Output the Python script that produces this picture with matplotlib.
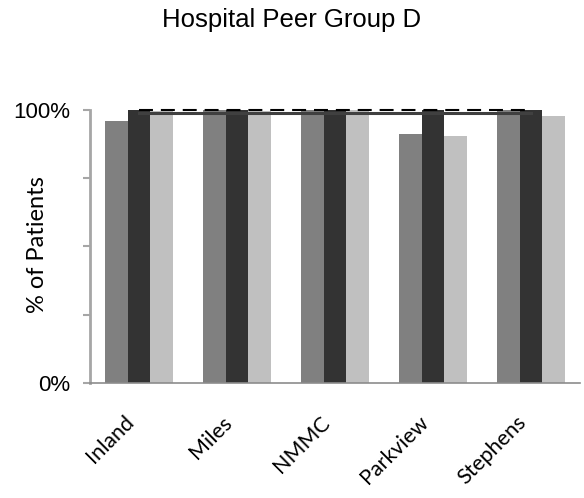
import numpy as np
import matplotlib.pyplot as plt
from matplotlib.transforms import ScaledTranslation

# hospitals and the three series (fraction of patients)
hospitals = ["Inland", "Miles", "NMMC", "Parkview", "Stephens"]
series_a = [0.959, 1.0, 1.0, 0.911, 1.0]
series_b = [1.0, 1.0, 1.0, 1.0, 1.0]
series_c = [0.997, 0.997, 1.0, 0.904, 0.977]
peer_avg = [0.989, 0.989, 0.989, 0.989, 0.989]
target = [1.0, 1.0, 1.0, 1.0, 1.0]

fig = plt.figure(figsize=(5.84, 4.98), dpi=100)
ax = fig.add_axes([90 / 584, 1 - 383 / 498, 490 / 584, 273 / 498])

x = np.arange(len(hospitals))
w = 0.23
ax.bar(x - w, series_a, w, color="#808080", clip_on=False, zorder=2)
ax.bar(x, series_b, w, color="#333333", clip_on=False, zorder=2)
ax.bar(x + w, series_c, w, color="#c0c0c0", clip_on=False, zorder=2)

ax.plot(x, peer_avg, color="#404040", lw=2.2, clip_on=False, zorder=3)
ax.plot(x, target, color="black", lw=1.5, ls=(0, (6.7, 3.8)), clip_on=False, zorder=4)

ax.set_xlim(-0.5, len(hospitals) - 0.5)
ax.set_ylim(0, 1)

ax.set_yticks([0, 0.25, 0.5, 0.75, 1.0])
ax.set_yticklabels(["0%", "", "", "", "100%"], fontsize=16, family="Liberation Sans")
ax.tick_params(axis="y", length=5, width=1.5, color="#a6a6a6", pad=9)

ax.set_xticks(x)
ax.set_xticklabels(hospitals, rotation=45, ha="right", va="top",
                   rotation_mode="anchor", fontsize=15.5, family="Lato")
ax.tick_params(axis="x", length=0, pad=21)
offset = ScaledTranslation(-0.15, 0, fig.dpi_scale_trans)
for lab in ax.get_xticklabels():
    lab.set_transform(lab.get_transform() + offset)

for side in ["top", "right"]:
    ax.spines[side].set_visible(False)
ax.spines["left"].set_color("#a6a6a6")
ax.spines["left"].set_linewidth(2)
ax.spines["bottom"].set_color("#8c8c8c")
ax.spines["bottom"].set_linewidth(1.2)

fig.text(0.5, 1 - 27 / 498, "Hospital Peer Group D", ha="center", va="baseline",
         fontsize=18.5, family="Liberation Sans")
fig.text(37 / 584, 1 - 245 / 498, "% of Patients", rotation=90, ha="center",
         va="center", fontsize=17, family="Lato")

fig.savefig("out.png", dpi=100)
